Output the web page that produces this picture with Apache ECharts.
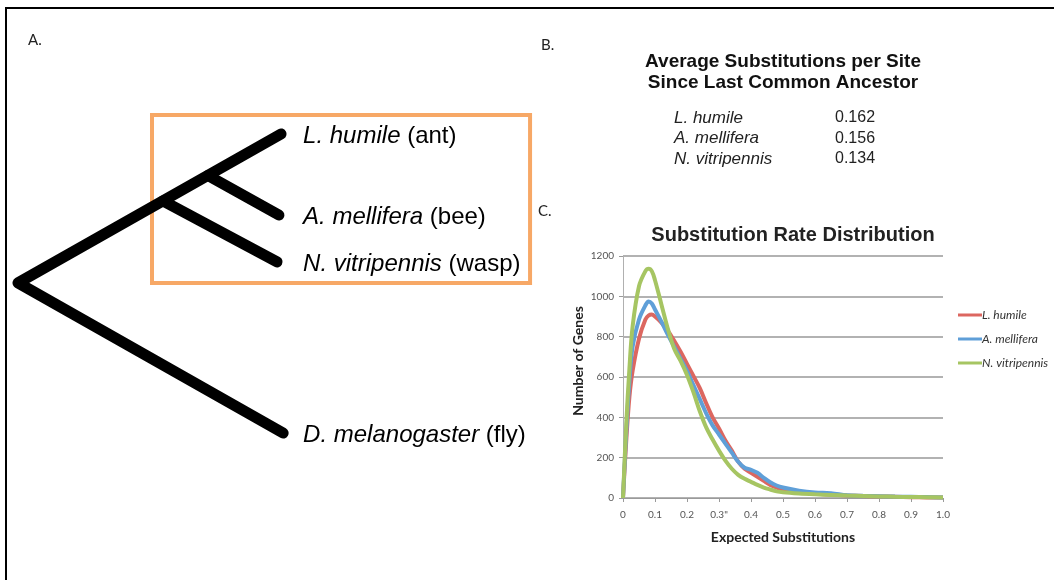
<!DOCTYPE html>
<html><head><meta charset="utf-8">
<script src="https://cdn.jsdelivr.net/npm/echarts@6/dist/echarts.min.js"></script>
<style>html,body{margin:0;padding:0;background:#fff}#c{width:1054px;height:580px}</style>
</head><body><div id="c"></div>
<script>
// ---- Panel A: phylogenetic tree (depth from root, row position) ----
const treeNodes = ['root', 'waspNode', 'beeNode', 'ant', 'bee', 'wasp', 'fly'];
const treeDepth = [0, 0.551, 0.722, 1.0, 0.992, 0.985, 1.008];
const treeRow = [0.498, 0.224, 0.139, 0, 0.271, 0.428, 1.0];
const treePaths = [['ant', 'root', 'fly'], ['waspNode', 'wasp'], ['beeNode', 'bee']];
const leafNodes = ['ant', 'bee', 'wasp', 'fly'];
const leafSpecies = ['L. humile', 'A. mellifera', 'N. vitripennis', 'D. melanogaster'];
const leafCommon = ['ant', 'bee', 'wasp', 'fly'];
const labelDepth = 1.084;
const highlightDepth = [0.5095, 1.947];
const highlightRow = [-0.0635, 0.498];

// ---- Panel B: table ----
const tableTitle = ['Average Substitutions per Site', 'Since Last Common Ancestor'];
const tableSpecies = ['L. humile', 'A. mellifera', 'N. vitripennis'];
const tableValues = ['0.162', '0.156', '0.134'];

// ---- Panel C: substitution rate distribution ----
const chartTitle = 'Substitution Rate Distribution';
const seriesNames = ['L. humile', 'A. mellifera', 'N. vitripennis'];
const xValues = [0, 0.01, 0.02, 0.03, 0.05, 0.07, 0.08, 0.09, 0.10, 0.12, 0.14, 0.16, 0.18, 0.20, 0.22, 0.24, 0.26, 0.28, 0.30, 0.32, 0.34, 0.36, 0.38, 0.40, 0.42, 0.44, 0.46, 0.48, 0.50, 0.55, 0.60, 0.65, 0.70, 0.75, 0.80, 0.85, 0.90, 0.95, 1.00];
const humile = [0, 280, 500, 630, 790, 885, 905, 910, 900, 870, 830, 780, 725, 665, 605, 545, 470, 400, 345, 285, 235, 180, 145, 125, 105, 85, 65, 52, 43, 30, 22, 17, 13, 10, 8, 6, 4, 3, 2];
const mellifera = [0, 320, 580, 750, 885, 955, 975, 965, 935, 875, 810, 750, 690, 630, 560, 490, 420, 360, 315, 270, 225, 180, 150, 140, 125, 100, 78, 62, 52, 36, 27, 24, 14, 11, 9, 7, 6, 5, 3];
const vitripennis = [0, 360, 640, 850, 1050, 1125, 1137, 1125, 1080, 960, 840, 740, 680, 610, 525, 430, 350, 290, 235, 185, 145, 115, 95, 80, 65, 52, 42, 33, 28, 22, 18, 15, 12, 10, 8, 6, 5, 4, 3];
const xTickLabels = ['0', '0.1', '0.2', '0.3"', '0.4', '0.5', '0.6', '0.7', '0.8', '0.9', '1.0'];
const seriesColors = ['#dc6760', '#5f9fd8', '#a6c562'];

const chart = echarts.init(document.getElementById('c'), null, { renderer: 'canvas' });
const nodePos = name => { const i = treeNodes.indexOf(name); return [treeDepth[i], treeRow[i]]; };

const treeSeries = treePaths.map(p => ({
  type: 'line', xAxisIndex: 0, yAxisIndex: 0, silent: true, z: 3,
  symbol: 'none', animation: false,
  data: p.map(nodePos),
  lineStyle: { color: '#000', width: 11, cap: 'round', join: 'round' }
}));

const boxSeries = {
  type: 'line', xAxisIndex: 0, yAxisIndex: 0, silent: true, z: 1, data: [], clip: false,
  markArea: {
    silent: true, animation: false,
    itemStyle: { color: 'rgba(0,0,0,0)', borderColor: '#f7a866', borderWidth: 4 },
    data: [[{ coord: [highlightDepth[0], highlightRow[0]] }, { coord: [highlightDepth[1], highlightRow[1]] }]]
  }
};

const leafSeries = {
  type: 'scatter', xAxisIndex: 0, yAxisIndex: 0, silent: true, symbolSize: 0, z: 4,
  data: leafNodes.map((n, i) => ({ value: [labelDepth, nodePos(n)[1]], species: leafSpecies[i], common: leafCommon[i] })),
  label: {
    show: true, position: 'right', distance: 0, offset: [0, 2],
    fontFamily: 'Liberation Sans', fontSize: 24, color: '#000', opacity: 1,
    formatter: p => '{i|' + p.data.species + '} {n|(' + p.data.common + ')}',
    rich: {
      i: { fontFamily: 'Liberation Sans', fontStyle: 'italic', fontSize: 24, color: '#000' },
      n: { fontFamily: 'Liberation Sans', fontSize: 24, color: '#000' }
    }
  }
};

const distSeries = [humile, mellifera, vitripennis].map((arr, k) => ({
  name: seriesNames[k], type: 'line', xAxisIndex: 1, yAxisIndex: 1,
  symbol: 'none', smooth: 0.35, z: 2 + k,
  data: xValues.map((x, i) => [x, arr[i]]),
  lineStyle: { color: seriesColors[k], width: 4 },
  itemStyle: { color: seriesColors[k] }
}));

const graphics = [
  { type: 'rect', shape: { x: 6, y: 8, width: 1200, height: 800 }, style: { fill: 'none', stroke: '#000', lineWidth: 2 }, silent: true },
  { type: 'text', x: 28, y: 33, style: { text: 'A.', font: '15px Lato', fill: '#222' } },
  { type: 'text', x: 541, y: 38, style: { text: 'B.', font: '15px Lato', fill: '#222' } },
  { type: 'text', x: 538, y: 204, style: { text: 'C.', font: '15px Lato', fill: '#222' } },
  { type: 'text', x: 783, y: 62, style: { text: tableTitle[0], font: 'bold 19px "Liberation Sans"', fill: '#111', align: 'center', verticalAlign: 'middle' } },
  { type: 'text', x: 783, y: 83, style: { text: tableTitle[1], font: 'bold 19px "Liberation Sans"', fill: '#111', align: 'center', verticalAlign: 'middle' } }
];
tableSpecies.forEach((s, i) => {
  graphics.push({ type: 'text', x: 674, y: 118 + i * 20.5, style: { text: s, font: 'italic 17px "Liberation Sans"', fill: '#222', verticalAlign: 'middle' } });
  graphics.push({ type: 'text', x: 835, y: 118 + i * 20.5, style: { text: tableValues[i], font: '16px "Liberation Sans"', fill: '#222', verticalAlign: 'middle' } });
});

chart.setOption({
  animation: false,
  backgroundColor: '#fff',
  title: {
    text: chartTitle, left: 788, top: 220, textAlign: 'center',
    textStyle: { fontFamily: 'Liberation Sans', fontWeight: 'bold', fontSize: 20, color: '#222' }
  },
  legend: {
    orient: 'vertical', left: 958, top: 309, padding: 0, data: seriesNames,
    icon: 'rect', itemWidth: 24, itemHeight: 3, itemGap: 12,
    textStyle: { fontFamily: 'Lato', fontStyle: 'italic', fontSize: 12, color: '#333', padding: [0, 0, 0, -5] },
    selectedMode: false
  },
  grid: [
    { left: 18, top: 104, width: 526, height: 359, containLabel: false },
    { left: 623, top: 256, width: 320, height: 242, containLabel: false }
  ],
  xAxis: [
    { gridIndex: 0, type: 'value', min: 0, max: 2, show: false },
    {
      gridIndex: 1, type: 'value', min: 0, max: 1, interval: 0.1,
      axisLine: { show: true, lineStyle: { color: '#9a9a9a', width: 1 } },
      axisTick: { show: true, length: 4, lineStyle: { color: '#9a9a9a' } },
      axisLabel: { formatter: v => xTickLabels[Math.round(v * 10)], fontFamily: 'Lato', fontSize: 10, color: '#555', margin: 12 },
      splitLine: { show: false },
      name: 'Expected Substitutions', nameLocation: 'middle', nameGap: 32,
      nameTextStyle: { fontFamily: 'Lato', fontWeight: 'bold', fontSize: 14, color: '#222' }
    }
  ],
  yAxis: [
    { gridIndex: 0, type: 'value', min: -0.1, max: 1.1, inverse: true, show: false },
    {
      gridIndex: 1, type: 'value', min: 0, max: 1200, interval: 200,
      axisLine: { show: true, lineStyle: { color: '#b0b0b0', width: 1 } },
      axisTick: { show: true, length: 4, lineStyle: { color: '#9a9a9a' } },
      axisLabel: { formatter: v => String(v), fontFamily: 'Lato', fontSize: 10, color: '#555', margin: 9 },
      splitLine: { show: true, lineStyle: { color: '#999', width: 1.5 } },
      name: 'Number of Genes', nameLocation: 'middle', nameGap: 38, nameRotate: 90,
      nameTextStyle: { fontFamily: 'Lato', fontWeight: 'bold', fontSize: 14, color: '#222', padding: [0, 0, 0, 32] }
    }
  ],
  series: [boxSeries].concat(treeSeries, [leafSeries], distSeries),
  graphic: graphics
});
</script></body></html>
